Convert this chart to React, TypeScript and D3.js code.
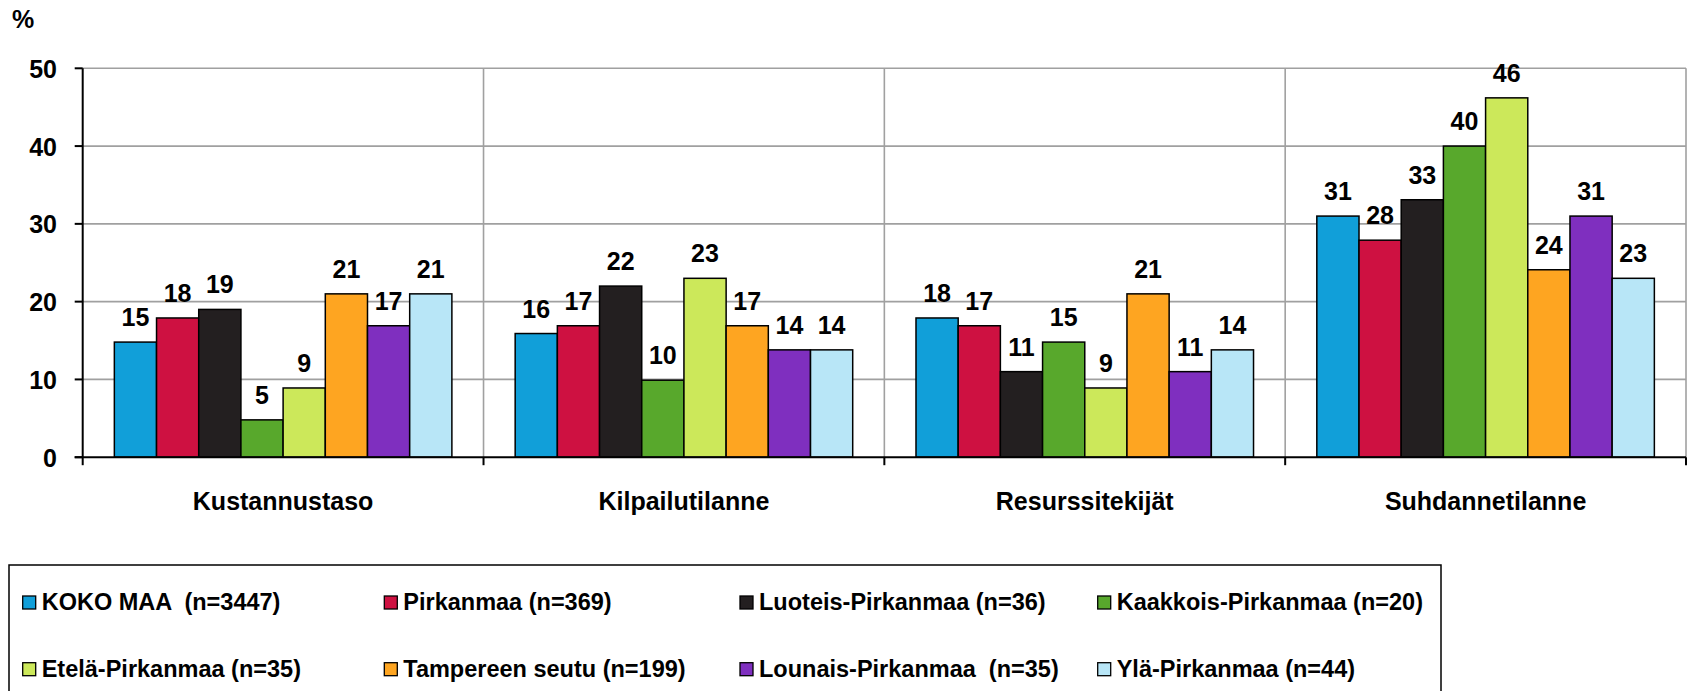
import React from 'react';
import * as d3 from 'd3';

// kategoriat ja sarjat
const categories = ['Kustannustaso', 'Kilpailutilanne', 'Resurssitekijät', 'Suhdannetilanne'];
const seriesNames = [
  'KOKO MAA  (n=3447)',
  'Pirkanmaa (n=369)',
  'Luoteis-Pirkanmaa (n=36)',
  'Kaakkois-Pirkanmaa (n=20)',
  'Etelä-Pirkanmaa (n=35)',
  'Tampereen seutu (n=199)',
  'Lounais-Pirkanmaa  (n=35)',
  'Ylä-Pirkanmaa (n=44)',
];
const colors = ['#119fd9', '#ce1141', '#231f20', '#58a82c', '#cce85a', '#fea521', '#7f2fbf', '#b8e6f7'];

// arvot sarjoittain (yksi luku per kategoria)
const kokoMaa = [14.8, 15.9, 17.9, 31];
const pirkanmaa = [17.9, 16.9, 16.9, 27.9];
const luoteis = [19, 22, 11, 33.1];
const kaakkois = [4.8, 9.9, 14.8, 40];
const etela = [8.9, 23, 8.9, 46.2];
const tampere = [21, 16.9, 21, 24.1];
const lounais = [16.9, 13.8, 11, 31];
const yla = [21, 13.8, 13.8, 23];
const values = [kokoMaa, pirkanmaa, luoteis, kaakkois, etela, tampere, lounais, yla];

const yTicks = [0, 10, 20, 30, 40, 50];

const W = 1687;
const H = 691;
const left = 82.7;
const right = 1686;
const top = 68.3;
const bottom = 457.2;
const font = '"Liberation Sans", Arial, sans-serif';

const App = () => {
  const x0 = d3.scaleBand<string>().domain(categories).range([left, right]).paddingInner(0).paddingOuter(0);
  const x1 = d3.scaleBand<number>().domain(d3.range(seriesNames.length)).range([0, x0.bandwidth()]).paddingInner(0).paddingOuter(0.75);
  const y = d3.scaleLinear().domain([0, 50]).range([bottom, top]);
  const fmt = d3.format('.0f');

  const boundaries = d3.range(categories.length + 1).map(i => left + i * x0.step());

  // legendan sijainnit
  const legCols = [22.7, 384.3, 740, 1097.7];
  const legRows = [610, 676.7];

  return (
    <svg width={W} height={H} style={{ position: 'absolute', left: 0, top: 0 }} fontFamily={font} fontWeight="bold">
      <rect width={W} height={H} fill="#fff" />
      <text x={12} y={28} fontSize={25}>%</text>

      {/* ruudukko */}
      {yTicks.filter(t => t > 0).map(t => (
        <line key={'h' + t} x1={left} x2={right} y1={y(t)} y2={y(t)} stroke="#a0a0a0" strokeWidth={1.6} />
      ))}
      {boundaries.slice(1).map((b, i) => (
        <line key={'v' + i} x1={b} x2={b} y1={top} y2={bottom} stroke="#a0a0a0" strokeWidth={1.6} />
      ))}

      {/* pylväät */}
      {categories.map((c, ci) => (
        <g key={c} transform={`translate(${x0(c)},0)`}>
          {values.map((s, si) => (
            <rect key={si} x={x1(si)} y={y(s[ci])} width={x1.bandwidth()} height={y(0) - y(s[ci])}
              fill={colors[si]} stroke="#000" strokeWidth={1.5} />
          ))}
          {values.map((s, si) => (
            <text key={'l' + si} x={(x1(si) as number) + x1.bandwidth() / 2} y={y(s[ci]) - 16}
              textAnchor="middle" fontSize={25}>{fmt(s[ci])}</text>
          ))}
        </g>
      ))}

      {/* akselit */}
      <line x1={left} x2={left} y1={top} y2={bottom} stroke="#000" strokeWidth={2} />
      <line x1={left - 8} x2={right} y1={bottom} y2={bottom} stroke="#000" strokeWidth={2} />
      {yTicks.map(t => (
        <g key={'t' + t}>
          <line x1={left - 8} x2={left} y1={y(t)} y2={y(t)} stroke="#000" strokeWidth={2} />
          <text x={57} y={y(t) + 9.5} textAnchor="end" fontSize={25}>{t}</text>
        </g>
      ))}
      {boundaries.map((b, i) => (
        <line key={'xt' + i} x1={b} x2={b} y1={bottom} y2={bottom + 8} stroke="#000" strokeWidth={2} />
      ))}
      {categories.map(c => (
        <text key={'c' + c} x={(x0(c) as number) + x0.bandwidth() / 2} y={510} textAnchor="middle" fontSize={25}>{c}</text>
      ))}

      {/* legenda */}
      <rect x={9} y={565} width={1432} height={150} fill="#fff" stroke="#000" strokeWidth={1.5} />
      {seriesNames.map((n, i) => {
        const cx = legCols[i % 4];
        const by = legRows[Math.floor(i / 4)];
        return (
          <g key={n}>
            <rect x={cx} y={by - 14} width={13} height={13} fill={colors[i]} stroke="#000" strokeWidth={1.3} />
            <text x={cx + 19} y={by} fontSize={23.5} style={{ whiteSpace: 'pre' }}>{n}</text>
          </g>
        );
      })}
    </svg>
  );
};

export default App;
